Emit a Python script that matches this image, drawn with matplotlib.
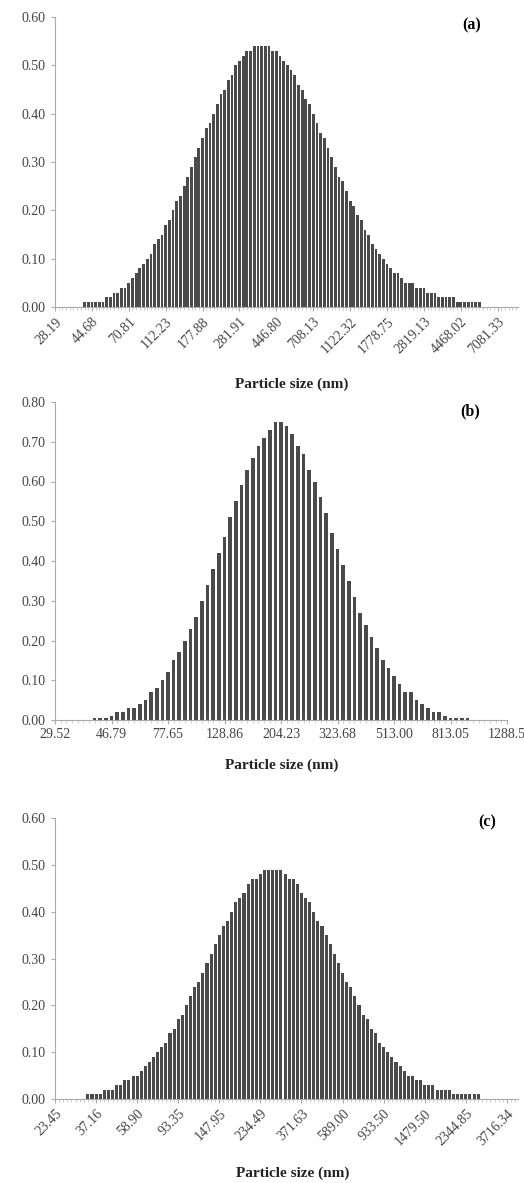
import numpy as np
import matplotlib.pyplot as plt

plt.rcParams['font.family'] = ['Liberation Serif', 'DejaVu Serif']

# Etiquetas del eje x (una cada 10 clases de tamaño)
etiquetas_a = ['28.19', '44.68', '70.81', '112.23', '177.88', '281.91', '446.80',
               '708.13', '1122.32', '1778.75', '2819.13', '4468.02', '7081.33']
etiquetas_b = ['29.52', '46.79', '77.65', '128.86', '204.23', '323.68', '513.00',
               '813.05', '1288.5']
etiquetas_c = ['23.45', '37.16', '58.90', '93.35', '147.95', '234.49', '371.63',
               '589.00', '933.50', '1479.50', '2344.85', '3716.34']

valores_a = [0, 0, 0, 0, 0, 0, 0, 0,
             0.01, 0.01, 0.01, 0.01, 0.01, 0.01, 0.02, 0.02, 0.03, 0.03,
             0.04, 0.04, 0.05, 0.06, 0.07, 0.08, 0.09, 0.10, 0.11, 0.13,
             0.14, 0.15, 0.17, 0.18, 0.20, 0.22, 0.23, 0.25, 0.27, 0.29,
             0.31, 0.33, 0.35, 0.37, 0.38, 0.40, 0.42, 0.44, 0.45, 0.47,
             0.48, 0.50, 0.51, 0.52, 0.53, 0.53, 0.54, 0.54, 0.54, 0.54,
             0.54, 0.53, 0.53, 0.52, 0.51, 0.50, 0.49, 0.48, 0.46, 0.45,
             0.43, 0.42, 0.40, 0.38, 0.36, 0.35, 0.33, 0.31, 0.29, 0.27,
             0.26, 0.24, 0.22, 0.21, 0.19, 0.18, 0.16, 0.15, 0.13, 0.12,
             0.11, 0.10, 0.09, 0.08, 0.07, 0.07, 0.06, 0.05, 0.05, 0.05,
             0.04, 0.04, 0.04, 0.03, 0.03, 0.03, 0.02, 0.02, 0.02, 0.02,
             0.02, 0.01, 0.01, 0.01, 0.01, 0.01, 0.01, 0.01,
             0, 0, 0, 0, 0, 0, 0, 0, 0, 0]

valores_b = [0, 0, 0, 0, 0, 0, 0,
             0.005, 0.005, 0.005, 0.01, 0.02, 0.02, 0.03, 0.03,
             0.04, 0.05, 0.07, 0.08, 0.10, 0.12, 0.15, 0.17, 0.20, 0.23,
             0.26, 0.30, 0.34, 0.38, 0.42, 0.46, 0.51, 0.55, 0.59, 0.63,
             0.66, 0.69, 0.71, 0.73, 0.75, 0.75, 0.74, 0.72, 0.69, 0.67,
             0.63, 0.60, 0.56, 0.52, 0.47, 0.43, 0.39, 0.35, 0.31, 0.27,
             0.24, 0.21, 0.18, 0.15, 0.13, 0.11, 0.09, 0.07, 0.07, 0.05,
             0.04, 0.03, 0.02, 0.02, 0.01, 0.005, 0.005, 0.005, 0.005,
             0, 0, 0, 0, 0, 0, 0]

valores_c = [0, 0, 0, 0, 0, 0, 0, 0,
             0.01, 0.01, 0.01, 0.01, 0.02, 0.02, 0.02, 0.03, 0.03, 0.04,
             0.04, 0.05, 0.05, 0.06, 0.07, 0.08, 0.09, 0.10, 0.11, 0.12,
             0.14, 0.15, 0.17, 0.18, 0.20, 0.22, 0.24, 0.25, 0.27, 0.29,
             0.31, 0.33, 0.35, 0.37, 0.38, 0.40, 0.42, 0.43, 0.44, 0.46,
             0.47, 0.47, 0.48, 0.49, 0.49, 0.49, 0.49, 0.49, 0.48, 0.47,
             0.47, 0.46, 0.44, 0.43, 0.42, 0.40, 0.38, 0.37, 0.35, 0.33,
             0.31, 0.29, 0.27, 0.25, 0.24, 0.22, 0.20, 0.18, 0.17, 0.15,
             0.14, 0.12, 0.11, 0.10, 0.09, 0.08, 0.07, 0.06, 0.05, 0.05,
             0.04, 0.04, 0.03, 0.03, 0.03, 0.02, 0.02, 0.02, 0.02,
             0.01, 0.01, 0.01, 0.01, 0.01, 0.01, 0.01,
             0, 0, 0, 0, 0, 0, 0, 0, 0]

W, H = 524, 1183


def graficar_panel(caja, valores, etiquetas, ymax, xmax, letra, pos_letra,
                   pos_titulo, rotar, ancho):
    # caja en pixeles: izquierda, arriba, derecha, abajo
    izq, arriba, der, abajo = caja
    ax = fig.add_axes([izq / W, 1 - abajo / H, (der - izq) / W, (abajo - arriba) / H])

    x = np.arange(len(valores))
    ax.bar(x, valores, width=ancho, color='#4a4a4a', linewidth=0)

    ax.set_xlim(0, xmax)
    ax.set_ylim(0, ymax)

    yt = np.arange(0, ymax + 0.001, 0.1)
    ax.set_yticks(yt)
    ax.set_yticklabels(['%.2f' % v for v in yt], fontsize=10, color='#444444')

    ax.set_xticks(np.arange(len(etiquetas)) * 10)
    if rotar:
        ax.set_xticklabels(etiquetas, rotation=45, ha='right',
                           rotation_mode='anchor', fontsize=10, color='#444444')
    else:
        ax.set_xticklabels(etiquetas, fontsize=10, color='#444444')
    ax.set_xticks(x, minor=True)

    for lado in ['top', 'right']:
        ax.spines[lado].set_visible(False)
    for lado in ['left', 'bottom']:
        ax.spines[lado].set_color('#aaaaaa')
        ax.spines[lado].set_linewidth(0.8)
    ax.tick_params(axis='y', length=3, color='#aaaaaa', pad=4)
    ax.tick_params(axis='x', which='major', length=3, color='#aaaaaa', pad=3)
    ax.tick_params(axis='x', which='minor', length=2, color='#bbbbbb', width=0.5)

    ax.text(pos_letra[0], pos_letra[1], letra, transform=ax.transAxes,
            fontsize=11.5, fontweight='bold', ha='center', va='center')
    fig.text(pos_titulo[0] / W, 1 - pos_titulo[1] / H, 'Particle size (nm)',
             fontsize=11, fontweight='bold', ha='center', va='center', color='#222222')
    return ax


fig = plt.figure(figsize=(W / 100, H / 100), dpi=100)

graficar_panel((55, 17, 518, 307), valores_a, etiquetas_a, 0.6, 125.5, '(a)',
               (0.90, 0.972), (292, 384), True, 0.75)
graficar_panel((55, 402, 507, 720), valores_b, etiquetas_b, 0.8, 80, '(b)',
               (0.918, 0.969), (282, 765), False, 0.65)
graficar_panel((55, 818, 518, 1099), valores_c, etiquetas_c, 0.6, 112.7, '(c)',
               (0.933, 0.986), (293, 1173), True, 0.75)

fig.savefig('out.png', dpi=100)
